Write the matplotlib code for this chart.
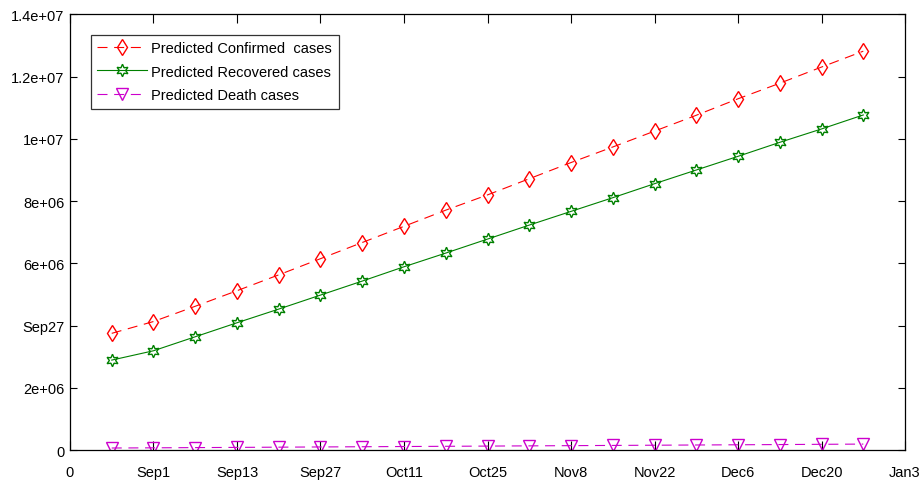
import matplotlib
matplotlib.use("Agg")
import matplotlib.pyplot as plt

plt.rcParams['font.family'] = ['Liberation Sans', 'DejaVu Sans']

# days since Aug 18, one point per week
days = [7, 14, 21, 28, 35, 42, 49, 56, 63, 70, 77, 84, 91, 98, 105, 112, 119, 126, 133]
confirmed = [3.75e6, 4.13e6, 4.62e6, 5.12e6, 5.63e6, 6.15e6, 6.67e6, 7.19e6, 7.71e6, 8.20e6,
             8.72e6, 9.24e6, 9.74e6, 10.25e6, 10.76e6, 11.29e6, 11.79e6, 12.31e6, 12.82e6]
recovered = [2.89e6, 3.19e6, 3.64e6, 4.09e6, 4.53e6, 4.98e6, 5.43e6, 5.89e6, 6.33e6, 6.78e6,
             7.23e6, 7.67e6, 8.11e6, 8.56e6, 9.00e6, 9.44e6, 9.89e6, 10.32e6, 10.77e6]
deaths = [0.064e6, 0.070e6, 0.077e6, 0.084e6, 0.091e6, 0.098e6, 0.105e6, 0.112e6, 0.119e6, 0.126e6,
          0.133e6, 0.140e6, 0.147e6, 0.154e6, 0.161e6, 0.168e6, 0.175e6, 0.183e6, 0.190e6]

xticks = [0, 14, 28, 42, 56, 70, 84, 98, 112, 126, 140]
xlabels = ['0', 'Sep1', 'Sep13', 'Sep27', 'Oct11', 'Oct25', 'Nov8', 'Nov22', 'Dec6', 'Dec20', 'Jan3']
yticks = [0, 2e6, 4e6, 6e6, 8e6, 1e7, 1.2e7, 1.4e7]
ylabels = ['0', '2e+06', 'Sep27', '6e+06', '8e+06', '1e+07', '1.2e+07', '1.4e+07']

fig = plt.figure(figsize=(9.22, 4.85), dpi=100)
ax = fig.add_axes([0.0759, 0.0701, 0.9057, 0.898])

ax.plot(days, confirmed, color='#ff0000', linestyle=(0, (9, 6)), linewidth=0.8,
        marker='d', markersize=8, markerfacecolor='none', markeredgewidth=1,
        label='Predicted Confirmed  cases')
ax.plot(days, recovered, color='#008000', linestyle='-', linewidth=0.8,
        marker=(6, 1, 0), markersize=9, markerfacecolor='none', markeredgewidth=1,
        label='Predicted Recovered cases')
ax.plot(days, deaths, color='#cc00cc', linestyle=(0, (9, 6)), linewidth=0.8,
        marker='v', markersize=8.5, markerfacecolor='none', markeredgewidth=1,
        label='Predicted Death cases')

ax.set_xlim(0, 140)
ax.set_ylim(0, 1.4e7)
ax.set_xticks(xticks)
ax.set_xticklabels(xlabels)
ax.set_yticks(yticks)
ax.set_yticklabels(ylabels)
ax.tick_params(axis='x', direction='in', top=True, length=6.5, width=0.8, labelsize=10.5, pad=11)
ax.tick_params(axis='y', direction='in', right=True, length=5, width=0.8, labelsize=10.5, pad=4)
for s in ax.spines.values():
    s.set_linewidth(0.9)

leg = ax.legend(loc='upper left', bbox_to_anchor=(0.025, 0.954), borderaxespad=0,
                fontsize=10.5, handlelength=3.4, handletextpad=0.3, labelspacing=0.65,
                borderpad=0.45, fancybox=False, framealpha=1, edgecolor='#333333')
leg.get_frame().set_linewidth(0.9)

fig.savefig('out.png', dpi=100)
